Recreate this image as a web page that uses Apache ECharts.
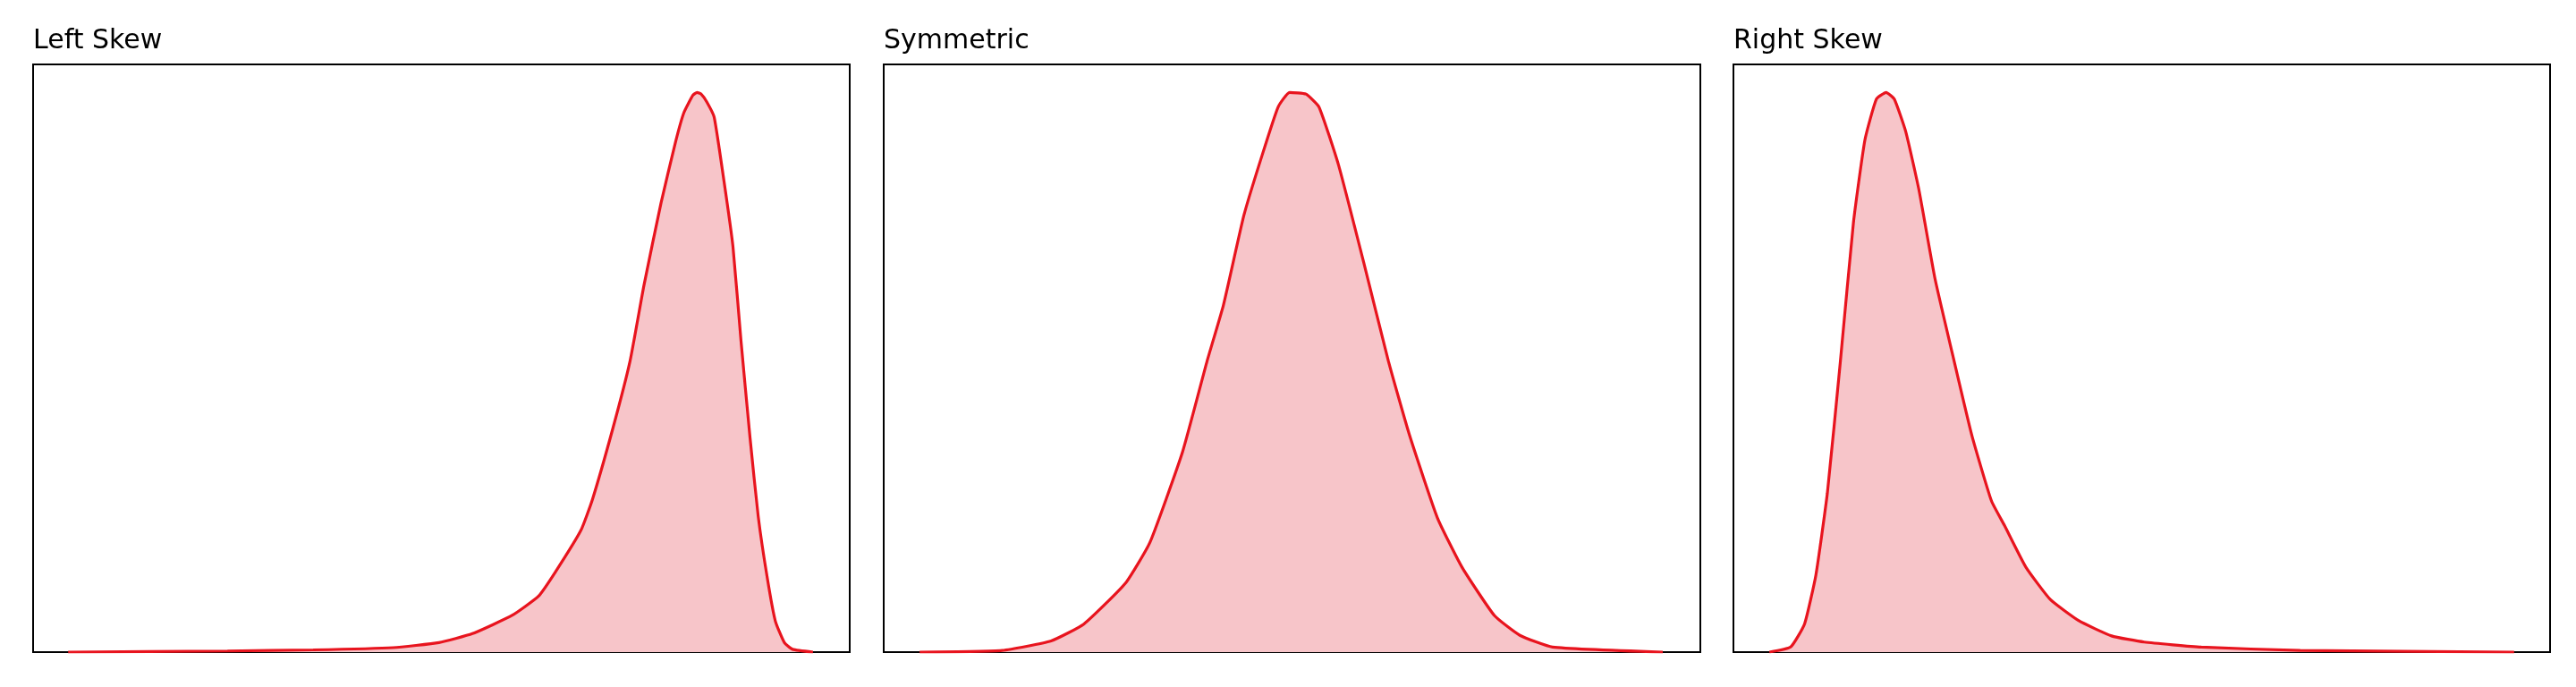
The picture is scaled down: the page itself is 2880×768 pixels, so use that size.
<!DOCTYPE html>
<html>
<head>
<meta charset="utf-8">
<script src="https://cdn.jsdelivr.net/npm/echarts@6/dist/echarts.min.js"></script>
<style>html,body{margin:0;padding:0;background:#fff}#chart{width:2880px;height:768px}</style>
</head>
<body>
<div id="chart"></div>
<script>
// x in percent of axis width, y relative to peak density
var titles = ['Left Skew', 'Symmetric', 'Right Skew'];
var leftX = [4.3,23.8,34.3,44.1,49.7,53.8,58.7,61.9,64,67.1,68.5,71,73.1,74.8,76.9,78.7,79.7,80.8,81.3,81.8,82.5,83.4,84.6,85.7,86.7,87.8,88.8,89.9,90.9,92,93,95.5];
var leftY = [0,0.002,0.004,0.008,0.017,0.033,0.066,0.10,0.144,0.218,0.273,0.40,0.52,0.655,0.803,0.913,0.964,0.995,1.0,0.997,0.983,0.956,0.842,0.725,0.554,0.382,0.242,0.133,0.055,0.017,0.005,0];
var symX = [4.4,14.5,20.5,24.5,29.6,32.6,36.6,39.6,41.6,44.1,46.3,48.3,49.7,51.7,53.3,55.7,58.8,61.8,64.4,67.8,70.8,74.8,77.9,81.9,95.4];
var symY = [0,0.003,0.02,0.05,0.123,0.196,0.358,0.52,0.62,0.78,0.886,0.974,1.0,0.997,0.974,0.87,0.695,0.52,0.387,0.24,0.152,0.065,0.03,0.009,0];
var rightX = [4.4,7,8.7,10.1,11.5,13.1,14.7,16.1,17.5,18.7,19.7,21.1,22.7,24.7,26.8,29.2,31.6,33.2,35.8,38.8,42.3,46.3,50.3,57.3,69.4,95.6];
var rightY = [0,0.009,0.05,0.138,0.284,0.52,0.768,0.915,0.988,1.0,0.988,0.93,0.827,0.666,0.534,0.387,0.27,0.226,0.152,0.094,0.056,0.029,0.018,0.009,0.003,0];

var curves = [[leftX, leftY], [symX, symY], [rightX, rightY]];
var lefts = [37, 988, 1938];
var panelW = 913;

var myChart = echarts.init(document.getElementById('chart'));
var option = {
  animation: false,
  title: [], grid: [], xAxis: [], yAxis: [], series: []
};
curves.forEach(function (c, i) {
  option.title.push({
    text: titles[i], left: lefts[i] - 5, top: 26,
    textStyle: {fontFamily: 'DejaVu Sans', fontWeight: 'normal', fontSize: 30, color: '#000'}
  });
  option.grid.push({
    left: lefts[i], top: 72, width: panelW, height: 657,
    show: true, borderColor: '#000', borderWidth: 2, backgroundColor: '#fff'
  });
  option.xAxis.push({
    type: 'value', gridIndex: i, min: 0, max: 100,
    axisLine: {show: false}, axisTick: {show: false}, axisLabel: {show: false}, splitLine: {show: false}
  });
  option.yAxis.push({
    type: 'value', gridIndex: i, min: 0, max: 1.05,
    axisLine: {show: false}, axisTick: {show: false}, axisLabel: {show: false}, splitLine: {show: false}
  });
  option.series.push({
    type: 'line', xAxisIndex: i, yAxisIndex: i,
    data: c[0].map(function (x, k) { return [x, c[1][k]]; }),
    smooth: 0.15, symbol: 'none',
    lineStyle: {color: '#e8141e', width: 3.2},
    areaStyle: {color: '#f7c5c9', opacity: 1}
  });
});
myChart.setOption(option);
</script>
</body>
</html>
